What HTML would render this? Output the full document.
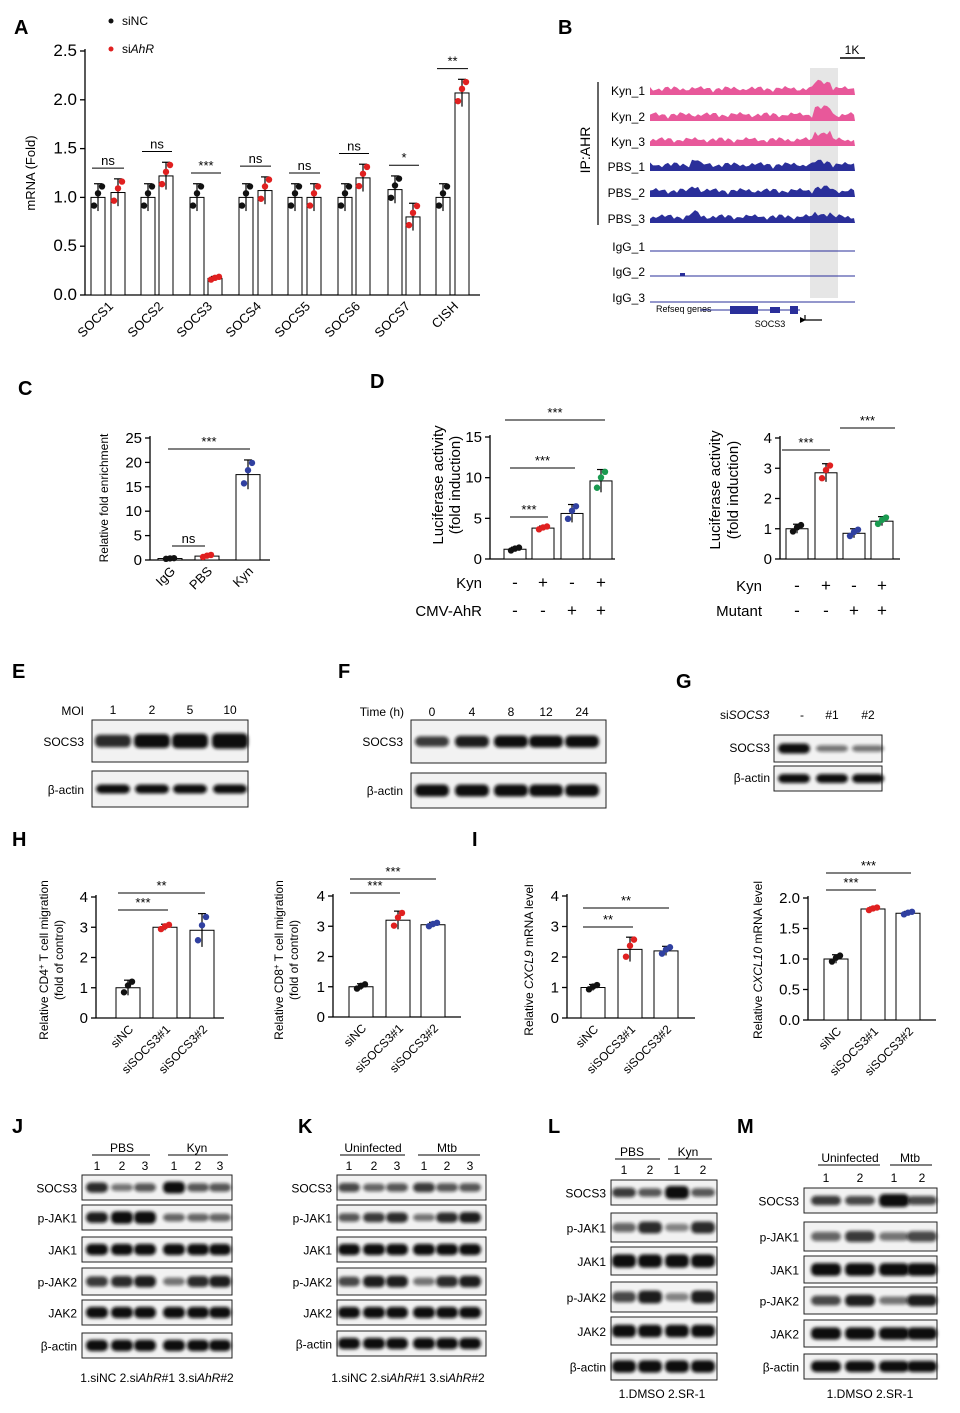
<!DOCTYPE html>
<html><head><meta charset="utf-8">
<style>
html,body{margin:0;padding:0;background:#fff;}
svg{display:block;font-family:"Liberation Sans",Arial,sans-serif;}
</style></head>
<body>
<svg id="s" width="960" height="1413" viewBox="0 0 960 1413" xmlns="http://www.w3.org/2000/svg">
<defs><filter id="bl" x="-20%" y="-50%" width="140%" height="200%"><feGaussianBlur stdDeviation="1.6"/></filter></defs>
</svg>
<script>
var S=document.getElementById('s'),o='';
function T(x,y,t,sz,a,extra){o+='<text x="'+x+'" y="'+y+'" font-size="'+(sz||13)+'" text-anchor="'+(a||'start')+'" '+(extra||'')+'>'+t+'</text>';}
function L(x1,y1,x2,y2,w,c){o+='<line x1="'+x1+'" y1="'+y1+'" x2="'+x2+'" y2="'+y2+'" stroke="'+(c||'#000')+'" stroke-width="'+(w||1.3)+'"/>';}
function R(x,y,w,h,f,s){o+='<rect x="'+x+'" y="'+y+'" width="'+w+'" height="'+h+'" fill="'+(f||'none')+'" stroke="'+(s||'none')+'"/>';}
function C(x,y,r,c){o+='<circle cx="'+x+'" cy="'+y+'" r="'+r+'" fill="'+c+'"/>';}
function B(t,x,y){T(x,y,t,20,'start','font-weight="bold"');}
// bar chart helper
function chart(ax,y0,yTop,max,step,ticks,tickFmt,xEnd,bars,bw,fs){
 L(ax,yTop-2,ax,y0);L(ax,y0,xEnd,y0);
 for(var v=0;v<=max+1e-9;v+=step){var y=y0-(y0-yTop)*v/max;L(ax-5,y,ax,y);T(ax-8,y+5,tickFmt(v),fs||15,'end');}
 bars.forEach(function(b){var h=(y0-yTop)*b.v/max,y=y0-h;R(b.x-bw/2,y,bw,h,'#fff','#000');
  var e=(y0-yTop)*(b.e||0.12)/max;L(b.x,y-e,b.x,y+e,1.2);L(b.x-4,y-e,b.x+4,y-e,1.2);
  var c=b.c||'#111';var sp=(b.sp||[-0.6,0.3,0.8]);C(b.x-4,y0-(y0-yTop)*(b.v+(b.e||0.12)*sp[0])/max,3.2,c);C(b.x,y0-(y0-yTop)*(b.v+(b.e||0.12)*sp[1])/max,3.2,c);C(b.x+4,y0-(y0-yTop)*(b.v+(b.e||0.12)*sp[2])/max,3.2,c);});
}
function sig(x1,x2,y,t){L(x1,y,x2,y,1);T((x1+x2)/2,y-3,t,13,'middle');}
function rot(x,y,t,sz,ang){o+='<text x="'+x+'" y="'+y+'" font-size="'+sz+'" text-anchor="end" transform="rotate('+(ang||-45)+' '+x+' '+y+')">'+t+'</text>';}
function rotm(x,y,t,sz){o+='<text x="'+x+'" y="'+y+'" font-size="'+sz+'" text-anchor="middle" transform="rotate(-90 '+x+' '+y+')">'+t+'</text>';}
// ---------- A ----------
B('A',14,34);
C(111,21,2.5,'#111');T(122,25,'siNC',12);C(111,49,2.5,'#e02020');T(122,53,'si<tspan font-style="italic">AhR</tspan>',12);
var gA=[[98,118,1.0,1.05,'ns'],[148,166,1.0,1.22,'ns'],[197,215,1.0,0.17,'***'],[246,265,1.0,1.07,'ns'],[295,314,1.0,1.0,'ns'],[345,363,1.0,1.2,'ns'],[395,413,1.08,0.8,'*'],[443,462,1.0,2.07,'**']];
var bA=[];gA.forEach(function(g){bA.push({x:g[0],v:g[2],e:0.14});bA.push({x:g[1],v:g[3],e:g[3]<0.3?0.02:0.14,c:'#e02020'});});
chart(85,295,51,2.5,0.5,0,function(v){return v.toFixed(1)},480,bA,14,17);
var sy={ns:0,'*':0,'**':0,'***':0};
gA.forEach(function(g){var t=Math.max(g[2],g[3])+0.25;var y=295-244*t/2.5;sig(g[0]-6,g[1]+6,y,g[4]);});
['SOCS1','SOCS2','SOCS3','SOCS4','SOCS5','SOCS6','SOCS7','CISH'].forEach(function(n,i){rot(gA[i][0]+16,307,n,13);});
rotm(35,173,'mRNA (Fold)',13);
// ---------- B ----------
B('B',558,34);
R(810,68,28,230,'#e6e6e6');
L(840,58,865,58,1.5);T(852,54,'1K',12,'middle');
o+='<text x="590" y="150" font-size="14" text-anchor="middle" transform="rotate(-90 590 150)">IP:AHR</text>';
L(598,82,598,225,1.2);
var rowsB=[['Kyn_1',90,'#e8589a'],['Kyn_2',116,'#e8589a'],['Kyn_3',141,'#e8589a'],['PBS_1',166,'#2a2f9a'],['PBS_2',192,'#2a2f9a'],['PBS_3',218,'#2a2f9a'],['IgG_1',246,'#2a2f9a'],['IgG_2',271,'#2a2f9a'],['IgG_3',297,'#2a2f9a']];
rowsB.forEach(function(r,k){T(645,r[1]+5,r[0],12,'end');var base=r[1]+5;
 if(k<6){var d='M650 '+base;for(var x=650;x<=855;x+=3){var h=2+Math.abs(Math.sin(x*0.37+k)*4)+Math.abs(Math.sin(x*0.11+k*2))*3;if(x>812&&x<832)h+=k<3?7:3;if(x>690&&x<700&&k>=3)h+=4;d+=' L'+x+' '+(base-h);}d+=' L855 '+base+' Z';o+='<path d="'+d+'" fill="'+r[2]+'"/>';}
 else {L(650,base,855,base,1,r[2]);if(k==7)R(680,base-3,5,3,r[2]);}
});
T(656,312,'Refseq genes',9);L(700,310,800,310,1,'#2a2f9a');R(730,306,28,8,'#2a2f9a');R(770,307,10,6,'#2a2f9a');R(790,306,8,8,'#2a2f9a');
L(805,315,805,320,1.2);L(805,320,822,320,1.2);T(770,327,'SOCS3',9,'middle');o+='<path d="M800 317 l6 3 l-6 3z" fill="#000"/>';
// ---------- C ----------
B('C',18,395);
chart(150,560,438,25,5,0,function(v){return v},270,[{x:170,v:0.3,e:0.1},{x:207,v:0.8,e:0.3,c:'#e02020'},{x:248,v:17.5,e:3,c:'#3040a0'}],24,15);
sig(172,205,546,'ns');sig(168,250,449,'***');
['IgG','PBS','Kyn'].forEach(function(n,i){rot([176,213,254][i],572,n,13);});
rotm(108,498,'Relative fold enrichment',12);
// ---------- D ----------
B('D',370,388);
chart(490,559,437,15,5,0,function(v){return v},615,[{x:515,v:1.2,e:0.25},{x:543,v:3.8,e:0.25,c:'#e02020'},{x:572,v:5.6,e:1.1,c:'#3040a0'},{x:601,v:9.6,e:1.4,c:'#1a9a50'}],22,15);
sig(510,548,517,'***');sig(510,575,468,'***');sig(505,605,420,'***');
rotm(443,485,'Luciferase activity',15);rotm(460,485,'(fold induction)',15);
var dl=[515,543,572,601];['-','+','-','+'].forEach(function(c,i){T(dl[i],588,c,17,'middle');});['-','-','+','+'].forEach(function(c,i){T(dl[i],616,c,17,'middle');});
T(482,588,'Kyn',15,'end');T(482,616,'CMV-AhR',15,'end');
chart(780,559,438,4,1,0,function(v){return v},900,[{x:797,v:1.0,e:0.15},{x:826,v:2.85,e:0.3,c:'#e02020'},{x:854,v:0.85,e:0.15,c:'#3040a0'},{x:882,v:1.25,e:0.15,c:'#1a9a50'}],22,15);
sig(782,830,450,'***');sig(840,895,428,'***');
rotm(720,490,'Luciferase activity',15);rotm(738,490,'(fold induction)',15);
var dr=[797,826,854,882];['-','+','-','+'].forEach(function(c,i){T(dr[i],591,c,17,'middle');});['-','-','+','+'].forEach(function(c,i){T(dr[i],616,c,17,'middle');});
T(762,591,'Kyn',15,'end');T(762,616,'Mutant',15,'end');
// ---------- blots ----------
function blot(x,y,w,h,xs,bw,bh,ints){R(x,y,w,h,'#f2f2f2','#222');xs.forEach(function(cx,i){var a=ints?ints[i]:1;if(a<=0)return;var hh=bh*(0.5+0.5*Math.min(a,1.3));o+='<rect x="'+(cx-bw/2)+'" y="'+(y+h/2-hh/2)+'" width="'+bw+'" height="'+hh+'" rx="5" fill="#111" opacity="'+Math.min(1,0.35+0.65*a)+'" filter="url(#bl)"/>';});}
B('E',12,678);T(84,715,'MOI',12,'end');[113,152,190,230].forEach(function(x,i){T(x,714,[1,2,5,10][i],12,'middle');});
blot(92,720,156,42,[113,152,190,230],36,14,[0.8,1,1.1,1.2]);blot(92,771,156,36,[113,152,190,230],34,9,[1,1,1,1]);
T(84,746,'SOCS3',12,'end');T(84,794,'β-actin',12,'end');
B('F',338,678);T(404,716,'Time (h)',12,'end');var fx=[432,472,511,546,582];fx.forEach(function(x,i){T(x,716,[0,4,8,12,24][i],12,'middle');});
blot(411,720,195,43,fx,34,12,[0.7,0.9,1,1,1]);blot(411,773,195,35,fx,34,12,[1,1,1,1,1]);
T(403,746,'SOCS3',12,'end');T(403,795,'β-actin',12,'end');
B('G',676,688);T(720,719,'si<tspan font-style="italic">SOCS3</tspan>',12);var gx=[794,832,868];['-','#1','#2'].forEach(function(t,i){T(gx[i]+(i==0?8:0),719,t,12,'middle');});
blot(774,735,108,27,gx,32,10,[1,0.3,0.3]);blot(774,766,108,25,gx,32,9,[1,1,1]);
T(770,752,'SOCS3',12,'end');T(770,782,'β-actin',12,'end');
// ---------- H / I ----------
B('H',12,846);B('I',472,846);
function small(ax,y0,yTop,max,step,fmt,bars,lab,x3,sigs,ylab1,ylab2,lx){chart(ax,y0,yTop,max,step,0,fmt,ax+128,bars,24,15);
 lab.forEach(function(n,i){rot(x3[i]+6,y0+12,n,12);});sigs.forEach(function(s){sig(s[0],s[1],s[2],s[3]);});
 rotm(lx,960,ylab1,12);if(ylab2)rotm(lx+15,960,ylab2,12);}
var lab=['siNC','siSOCS3#1','siSOCS3#2'];
small(96,1018,897,4,1,function(v){return v},[{x:128,v:1.0,e:0.25},{x:165,v:3.0,e:0.1,c:'#e02020'},{x:202,v:2.9,e:0.55,c:'#3040a0'}],lab,[128,165,202],[[118,168,910,'***'],[118,205,893,'**']],'Relative CD4<tspan baseline-shift="super" font-size="8">+</tspan> T cell migration','(fold of control)',48);
small(333,1017,896,4,1,function(v){return v},[{x:361,v:1.0,e:0.1},{x:398,v:3.2,e:0.3,c:'#e02020'},{x:433,v:3.05,e:0.08,c:'#3040a0'}],lab,[361,398,433],[[350,400,893,'***'],[350,436,879,'***']],'Relative CD8<tspan baseline-shift="super" font-size="8">+</tspan> T cell migration','(fold of control)',283);
small(567,1018,896,4,1,function(v){return v},[{x:593,v:1.0,e:0.1},{x:630,v:2.25,e:0.4,c:'#e02020'},{x:666,v:2.2,e:0.15,c:'#3040a0'}],lab,[593,630,666],[[583,633,927,'**'],[583,669,908,'**']],'Relative <tspan font-style="italic">CXCL9</tspan> mRNA level',null,533);
small(808,1020,898,2,0.5,function(v){return v.toFixed(1)},[{x:836,v:1.0,e:0.07},{x:873,v:1.82,e:0.03,c:'#e02020'},{x:908,v:1.75,e:0.03,c:'#3040a0'}],lab,[836,873,908],[[826,876,890,'***'],[826,911,873,'***']],'Relative <tspan font-style="italic">CXCL10</tspan> mRNA level',null,762);
// ---------- J-M ----------
var names=['SOCS3','p-JAK1','JAK1','p-JAK2','JAK2','β-actin'];
function big(letter,lx,ly,x,w,xs,rows,hdr,hx,hy,nums,ny,foot,fx,fy,ints,bw){B(letter,lx,ly);
 hdr.forEach(function(h){T(h[1],hy,h[0],12,'middle');L(h[2],hy+3,h[3],hy+3,1);});
 xs.forEach(function(cx,i){T(cx,ny,nums[i],12,'middle');});
 rows.forEach(function(r,i){blot(x,r[0],w,r[1]-r[0],xs,bw,(r[1]-r[0])*0.45,ints[i]);T(x-5,(r[0]+r[1])/2+5,names[i],12,'end');});
 T(fx,fy,foot,12,'middle');}
var jx=[97,122,145,174,198,220],one=[1,1,1,1,1,1];
big('J',12,1133,82,150,jx,[[1175,1200],[1205,1230],[1237,1262],[1268,1295],[1300,1325],[1333,1358]],[['PBS',122,92,150],['Kyn',197,168,228]],0,1152,[1,2,3,1,2,3],1170,'1.siNC  2.si<tspan font-style="italic">AhR</tspan>#1  3.si<tspan font-style="italic">AhR</tspan>#2',157,1382,[[0.8,0.3,0.5,1.1,0.5,0.5],[0.9,1.2,1.2,0.4,0.4,0.4],one,[0.7,0.8,0.9,0.3,0.8,0.9],one,one],22);
var kx=[349,374,397,424,447,470];
big('K',298,1133,337,149,kx,[[1175,1200],[1205,1230],[1237,1262],[1268,1295],[1300,1325],[1331,1356]],[['Uninfected',373,340,405],['Mtb',447,418,480]],0,1152,[1,2,3,1,2,3],1170,'1.siNC  2.si<tspan font-style="italic">AhR</tspan>#1  3.si<tspan font-style="italic">AhR</tspan>#2',408,1382,[[0.6,0.4,0.5,0.7,0.5,0.5],[0.5,0.7,0.8,0.3,0.8,0.9],one,[0.6,0.9,0.9,0.3,0.8,0.9],one,one],22);
var lxs=[624,650,677,703];
big('L',548,1133,611,106,lxs,[[1180,1205],[1213,1242],[1247,1275],[1282,1312],[1317,1345],[1353,1380]],[['PBS',632,615,660],['Kyn',688,668,712]],0,1156,[1,2,1,2],1174,'1.DMSO 2.SR-1',662,1398,[[0.7,0.5,1.3,0.5],[0.4,0.8,0.2,0.8],[1.1,1.1,1.1,1.1],[0.6,0.9,0.2,0.9],one,one],24);
var mx=[826,860,894,922];
big('M',737,1133,804,133,mx,[[1188,1213],[1222,1251],[1256,1283],[1287,1314],[1320,1347],[1354,1379]],[['Uninfected',850,818,880],['Mtb',910,890,932]],0,1162,[1,2,1,2],1182,'1.DMSO 2.SR-1',870,1398,[[0.7,0.6,1.3,0.6],[0.4,0.7,0.3,0.6],[1.1,1.1,1.1,1.1],[0.6,0.9,0.3,0.9],one,one],30);
S.innerHTML+=o;
</script>
</body></html>
